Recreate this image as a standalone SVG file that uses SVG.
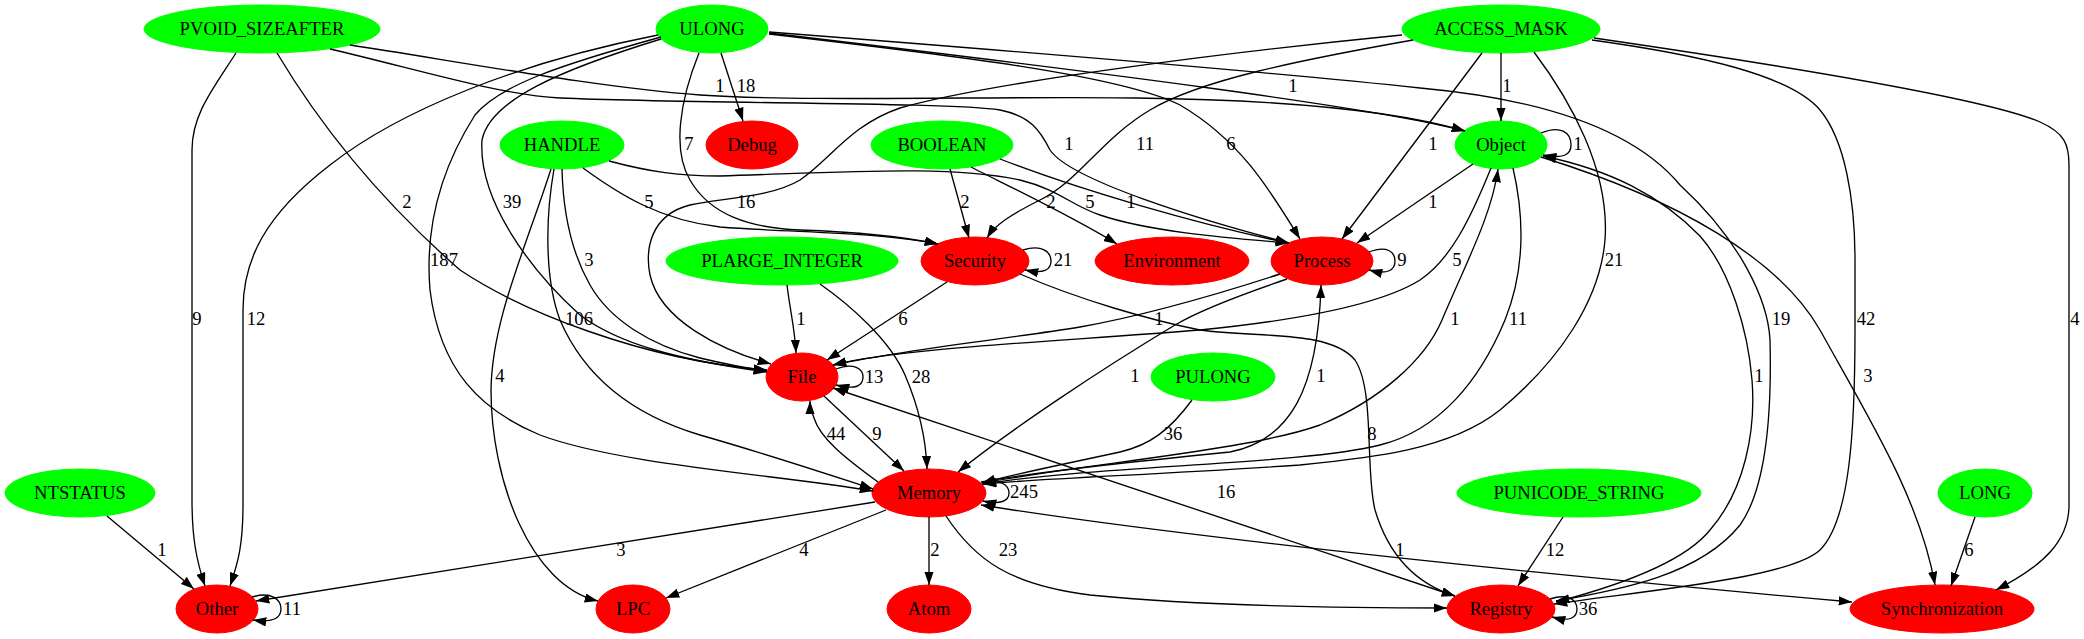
<svg xmlns="http://www.w3.org/2000/svg" width="2084" height="639" viewBox="0 0 2084 639">
<style>
text{font-family:"Liberation Serif","Times New Roman",serif;font-size:18.67px;text-anchor:middle;fill:#000}
.g ellipse{fill:#00ff00;stroke:#00ff00}
.r ellipse{fill:#ff0000;stroke:#ff0000}
.e path{fill:none;stroke:#000;stroke-width:1.33;marker-end:url(#ah)}
.e path.b{marker-start:url(#ah)}
</style>
<defs>
<marker id="ah" viewBox="0 0 13.3 9.3" refX="13.3" refY="4.65" markerWidth="13.3" markerHeight="9.3" markerUnits="userSpaceOnUse" orient="auto-start-reverse"><path d="M0,0 L13.3,4.65 L0,9.3 Z" fill="#000"/></marker>
</defs>
<rect width="2084" height="639" fill="#fff"/>
<g id="nodes">
<g id="PVOID_SIZEAFTER" class="g"><ellipse cx="262" cy="29" rx="118" ry="24"/><text x="262" y="35">PVOID_SIZEAFTER</text></g>
<g id="ULONG" class="g"><ellipse cx="712" cy="29" rx="56" ry="24"/><text x="712" y="35">ULONG</text></g>
<g id="ACCESS_MASK" class="g"><ellipse cx="1501" cy="29" rx="99" ry="24"/><text x="1501" y="35">ACCESS_MASK</text></g>
<g id="HANDLE" class="g"><ellipse cx="562" cy="145" rx="62" ry="24"/><text x="562" y="151">HANDLE</text></g>
<g id="Debug" class="r"><ellipse cx="752" cy="145" rx="46" ry="24"/><text x="752" y="151">Debug</text></g>
<g id="BOOLEAN" class="g"><ellipse cx="942" cy="145" rx="71" ry="24"/><text x="942" y="151">BOOLEAN</text></g>
<g id="Object" class="g"><ellipse cx="1501" cy="145" rx="46" ry="24"/><text x="1501" y="151">Object</text></g>
<g id="PLARGE_INTEGER" class="g"><ellipse cx="782" cy="261" rx="116" ry="24"/><text x="782" y="267">PLARGE_INTEGER</text></g>
<g id="Security" class="r"><ellipse cx="975" cy="261" rx="54" ry="24"/><text x="975" y="267">Security</text></g>
<g id="Environment" class="r"><ellipse cx="1172" cy="261" rx="77" ry="24"/><text x="1172" y="267">Environment</text></g>
<g id="Process" class="r"><ellipse cx="1322" cy="261" rx="51" ry="24"/><text x="1322" y="267">Process</text></g>
<g id="File" class="r"><ellipse cx="802" cy="377" rx="36" ry="24"/><text x="802" y="383">File</text></g>
<g id="PULONG" class="g"><ellipse cx="1213" cy="377" rx="62" ry="24"/><text x="1213" y="383">PULONG</text></g>
<g id="NTSTATUS" class="g"><ellipse cx="80" cy="493" rx="75" ry="24"/><text x="80" y="499">NTSTATUS</text></g>
<g id="Memory" class="r"><ellipse cx="929" cy="493" rx="57" ry="24"/><text x="929" y="499">Memory</text></g>
<g id="PUNICODE_STRING" class="g"><ellipse cx="1579" cy="493" rx="122" ry="24"/><text x="1579" y="499">PUNICODE_STRING</text></g>
<g id="LONG" class="g"><ellipse cx="1985" cy="493" rx="47" ry="24"/><text x="1985" y="499">LONG</text></g>
<g id="Other" class="r"><ellipse cx="217" cy="609" rx="41" ry="24"/><text x="217" y="615">Other</text></g>
<g id="LPC" class="r"><ellipse cx="633" cy="609" rx="37" ry="24"/><text x="633" y="615">LPC</text></g>
<g id="Atom" class="r"><ellipse cx="929" cy="609" rx="42" ry="24"/><text x="929" y="615">Atom</text></g>
<g id="Registry" class="r"><ellipse cx="1501" cy="609" rx="54" ry="24"/><text x="1501" y="615">Registry</text></g>
<g id="Synchronization" class="r"><ellipse cx="1942" cy="609" rx="92" ry="24"/><text x="1942" y="615">Synchronization</text></g>
</g>
<g id="edges" class="e">
<path d="M236,53 C212,90 192,115 192,150 L192,500 C192,540 197,562 205,586"/><text x="197" y="325">9</text>
<path d="M658,35 C520,62 400,110 330,165 C265,215 243,260 243,310 L243,505 C243,545 238,563 230,586"/><text x="256" y="325">12</text>
<path d="M107,516 L194,589"/><text x="162" y="556">1</text>
<path d="M252,597 C272,591 281,600 281,609 C281,618 273,623 253,620"/><text x="292" y="615">11</text>
<path d="M875,502 L256,601"/><text x="621" y="556">3</text>
<path d="M886,510 L666,598"/><text x="804" y="556">4</text>
<path d="M551,169 C525,250 492,320 491,390 C491,480 530,585 598,601"/><text x="500" y="382">4</text>
<path d="M929,517 L929,585"/><text x="935" y="556">2</text>
<path d="M946,516 C975,560 1010,585 1090,595 C1200,606 1350,608 1447,608"/><text x="1008" y="556">23</text>
<path class="b" d="M981,505 C1200,540 1600,580 1852,602"/><text x="1400" y="556">1</text>
<path class="b" d="M833,388 L1455,596"/><text x="1226" y="498">16</text>
<path d="M1550,599 C1568,593 1577,600 1577,609 C1577,618 1570,622 1552,617"/><text x="1588" y="615">36</text>
<path d="M1563,517 L1518,586"/><text x="1555" y="556">12</text>
<path d="M1975,517 L1951,586"/><text x="1969" y="556">6</text>
<path d="M1594,38 C1800,68 1990,100 2040,122 C2065,133 2069,145 2069,165 L2069,505 C2069,540 2045,565 1996,590"/><text x="2075" y="325">4</text>
<path d="M1592,40 C1700,55 1790,75 1820,110 C1845,140 1855,200 1855,260 L1855,330 C1855,430 1850,520 1820,550 C1790,578 1650,590 1554,604"/><text x="1866" y="325">42</text>
<path d="M769,32 C1000,50 1300,75 1420,88 C1530,98 1630,125 1680,185 C1740,240 1768,300 1770,340 C1772,420 1765,490 1740,525 C1700,575 1620,590 1556,601"/><text x="1781" y="325">19</text>
<path d="M1556,602 C1640,580 1690,555 1710,530 C1745,490 1756,430 1752,380 C1748,330 1730,270 1700,236 C1660,195 1610,170 1543,156"/><text x="1759" y="382">1</text>
<path d="M1541,157 C1680,200 1780,260 1820,330 C1870,420 1920,500 1935,585"/><text x="1868" y="382">3</text>
<path d="M1541,133 C1560,125 1571,132 1571,145 C1571,155 1563,159 1543,155"/><text x="1578" y="150">1</text>
<path d="M1501,53 L1501,121"/><text x="1507" y="92">1</text>
<path d="M350,45 C450,60 600,88 700,95 C800,102 1000,96 1136,98 C1300,100 1400,112 1465,131"/><text x="720" y="92">1</text>
<path d="M769,33 C1100,72 1380,108 1465,131"/><text x="1293" y="92">1</text>
<path d="M330,49 C420,70 500,95 560,98 C700,104 950,102 1000,110 C1030,116 1040,130 1050,150 C1070,180 1200,220 1289,243"/><text x="1069" y="150">1</text>
<path d="M609,161 C650,172 680,176 720,176 C850,172 950,165 1020,180 C1060,190 1070,205 1100,215 C1150,232 1230,238 1289,243"/><text x="1090" y="208">5</text>
<path d="M1000,159 C1080,190 1200,225 1289,243"/><text x="1131" y="208">1</text>
<path d="M971,167 C1000,182 1070,215 1117,244"/><text x="1051" y="208">2</text>
<path d="M950,169 L969,238"/><text x="965" y="208">2</text>
<path d="M583,168 C620,195 660,220 720,227 C800,233 880,232 938,244"/><text x="649" y="208">5</text>
<path d="M699,53 C680,100 672,150 690,180 C710,215 750,228 800,230 C860,232 900,236 938,244"/><text x="689" y="150">7</text>
<path d="M1413,40 C1300,60 1200,80 1150,110 C1100,140 1080,180 1040,200 C1010,215 995,225 987,238"/><text x="1145" y="150">11</text>
<path d="M1402,35 C1250,50 1000,80 900,108 C850,125 830,160 800,180 C770,198 720,198 690,205 C650,215 645,250 650,275 C660,320 720,350 771,364"/><text x="746" y="208">16</text>
<path d="M661,39 C560,70 490,100 482,140 C478,200 530,270 580,315 C620,345 680,360 767,372"/><text x="512" y="208">39</text>
<path d="M562,169 C563,210 570,250 590,285 C610,320 650,345 700,358 C725,364 745,368 767,371"/><text x="589" y="266">3</text>
<path d="M277,53 C320,125 380,200 460,270 C520,310 640,360 767,370"/><text x="407" y="208">2</text>
<path d="M554,169 C545,220 545,280 560,320 C590,390 650,420 700,435 C770,455 830,475 873,489"/><text x="579" y="325">106</text>
<path d="M661,37 C560,65 500,85 475,115 C440,170 425,230 430,290 C440,370 480,410 540,435 C620,465 780,475 873,491"/><text x="444" y="266">187</text>
<path d="M787,285 C790,310 795,330 796,353"/><text x="801" y="325">1</text>
<path d="M820,284 C850,305 890,340 905,375 C920,410 926,440 927,469"/><text x="921" y="383">28</text>
<path d="M947,282 L827,360"/><text x="903" y="325">6</text>
<path d="M1023,250 C1042,244 1051,252 1051,261 C1051,270 1044,274 1025,270"/><text x="1063" y="266">21</text>
<path d="M1020,274 C1080,300 1150,320 1200,330 C1260,338 1330,330 1355,360 C1375,390 1365,470 1375,510 C1390,560 1420,585 1455,596"/><text x="1372" y="440">8</text>
<path d="M1280,274 C1200,300 1130,318 1080,327 C1000,340 900,350 833,365"/><text x="1159" y="325">1</text>
<path d="M1491,168 C1470,220 1450,260 1420,280 C1380,305 1300,320 1200,330 C1050,342 900,348 833,365"/><text x="1457" y="266">5</text>
<path d="M1287,279 C1240,295 1200,310 1175,325 C1100,370 1010,430 958,472"/><text x="1135" y="382">1</text>
<path d="M981,482 C1050,470 1150,460 1230,452 C1290,440 1318,390 1321,285"/><text x="1321" y="382">1</text>
<path d="M982,483 C1100,462 1250,450 1320,425 C1380,400 1425,360 1442,320 C1465,265 1492,215 1498,169"/><text x="1455" y="325">1</text>
<path d="M1513,168 C1525,220 1525,270 1505,320 C1480,380 1440,430 1380,445 C1300,465 1100,465 983,484"/><text x="1518" y="325">11</text>
<path d="M1534,52 C1570,100 1610,170 1605,240 C1600,300 1560,360 1500,410 C1450,450 1370,458 1300,465 C1150,475 1050,478 983,484"/><text x="1614" y="266">21</text>
<path d="M1192,400 C1170,430 1150,445 1120,452 C1060,465 1010,475 982,483"/><text x="1173" y="440">36</text>
<path d="M824,396 L904,471"/><text x="877" y="440">9</text>
<path d="M878,482 C845,458 820,438 814,418 C811,410 810,405 810,401"/><text x="836" y="440">44</text>
<path d="M836,369 C854,362 863,369 863,377 C863,386 856,390 836,385"/><text x="874" y="383">13</text>
<path d="M982,484 C1000,478 1009,485 1009,493 C1009,501 1000,505 983,501"/><text x="1024" y="498">245</text>
<path d="M1369,252 C1387,245 1395,252 1395,261 C1395,270 1388,275 1369,270"/><text x="1402" y="266">9</text>
<path d="M1473,164 L1357,243"/><text x="1433" y="208">1</text>
<path d="M1482,53 L1342,239"/><text x="1433" y="150">1</text>
<path d="M769,34 C950,55 1120,75 1180,105 C1240,140 1270,190 1300,239"/><text x="1231" y="150">6</text>
<path d="M721,53 L743,121"/><text x="746" y="92">18</text>
</g>
</svg>
